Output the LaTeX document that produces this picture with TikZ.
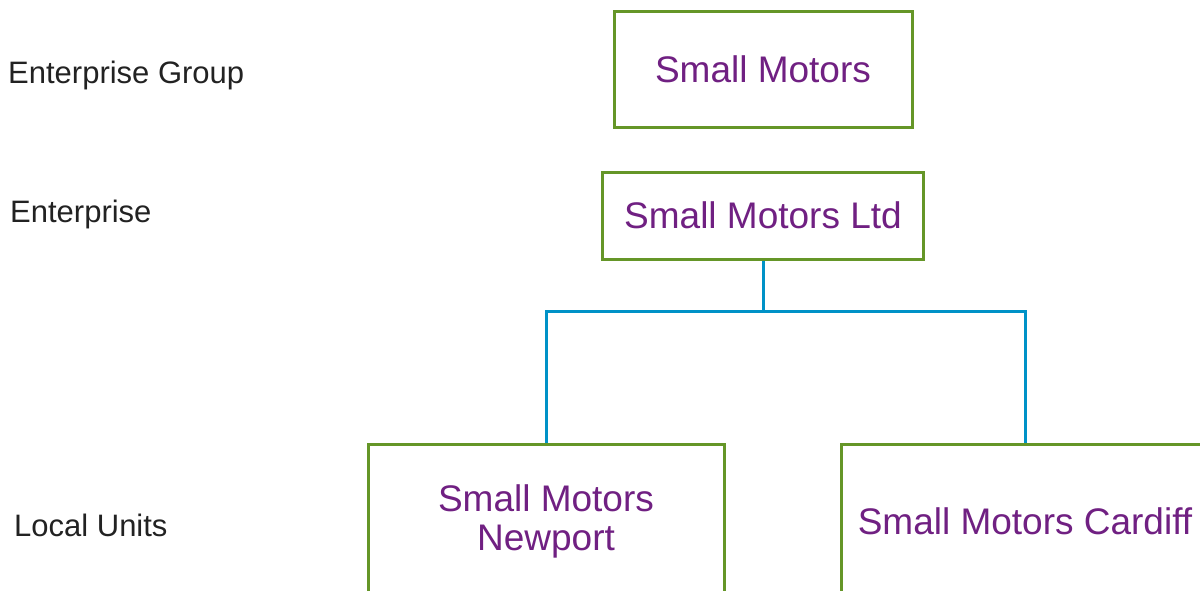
\documentclass[tikz,border=0pt]{standalone}
\usepackage{fontspec}
\setmainfont{Liberation Sans}
\usepackage{tikz}
\usetikzlibrary{shapes, arrows}
\definecolor{boxgreen}{RGB}{101,150,40}
\definecolor{textpurple}{RGB}{112,32,130}
\definecolor{linkblue}{RGB}{0,146,199}
\definecolor{labelgray}{RGB}{34,34,34}
\tikzstyle{unit} = [rectangle, draw=boxgreen, line width=3pt, fill=white, text=textpurple, text centered, inner sep=0pt, font=\fontsize{37}{39}\selectfont]
\tikzstyle{level} = [anchor=west, inner sep=0pt, text=labelgray, font=\fontsize{31}{36}\selectfont]
\tikzstyle{line} = [draw=linkblue, line width=3pt]

\begin{document}
\begin{tikzpicture}[x=1pt, y=-1pt]
    \useasboundingbox (0,0) rectangle (1200,590);
    \clip (0,0) rectangle (1200,590);

    \node[level] (grouplabel) at (8,75) {Enterprise Group};
    \node[level] (entlabel) at (10,214) {Enterprise};
    \node[level] (locallabel) at (14,525) {Local Units};

    \node[unit, minimum width=298pt, minimum height=116pt] (group) at (763,69) {Small Motors};
    \node[unit, minimum width=321pt, minimum height=87pt] (ent) at (763,215.5) {Small Motors Ltd};
    \node[unit, minimum width=356pt, minimum height=154pt, align=center] (newport) at (546,521) {Small Motors\\Newport};
    \node[unit, minimum width=368pt, minimum height=154pt] (cardiff) at (1025,521) {Small Motors Cardiff};
    \coordinate (split) at (763,311);

    \path[line] (ent.south) -- (split);
    \path[line] (split) -| (newport.north);
    \path[line] (split) -| (cardiff.north);
\end{tikzpicture}
\end{document}
